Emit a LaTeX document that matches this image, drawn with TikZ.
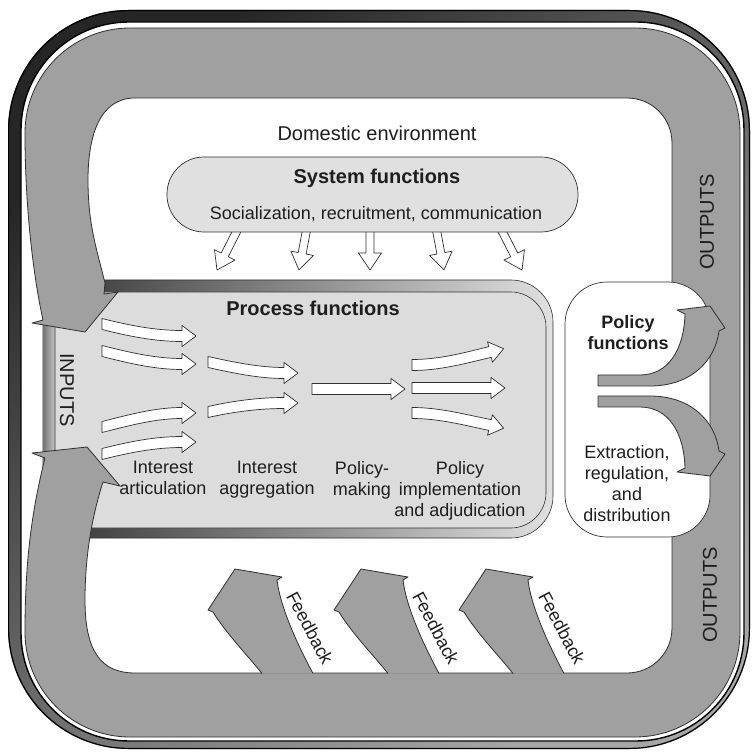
\documentclass[tikz,border=0pt]{standalone}
\usepackage{fontspec}
\setmainfont{Liberation Sans}
\usetikzlibrary{calc}
\definecolor{bandgray}{HTML}{A0A0A0}
\definecolor{procfill}{HTML}{DCDCDC}
\definecolor{sysfill}{HTML}{E0E0E0}
\definecolor{ink}{HTML}{1E1E1E}
\definecolor{edgec}{HTML}{303030}
\tikzset{
 bandstyle/.style={fill=bandgray, draw=edgec, line width=0.8pt, line join=round},
 bandfill/.style={fill=bandgray},
 bandline/.style={draw=edgec, line width=0.8pt, line join=round},
 wstyle/.style={fill=white, draw=edgec, line width=0.7pt, line join=round},
 lbl/.style={text=ink, inner sep=0pt, align=center},
}
\newcommand\fsA{\fontsize{18}{21}\selectfont}
\newcommand\fsB{\fontsize{20}{23}\selectfont}
% white curved arrow: tail, c1, c2, end (head base), head angle
\newcommand\myWarr[5]{%
  \filldraw[wstyle] ($#1+(0,-5.5)$) .. controls ($#2+(0,-5.5)$) and ($#3+(0,-5.5)$) .. ($#4+(#5-90:5.5)$)
   -- ($#4+(#5-90:10.5)$) -- ($#4+(#5:14)$) -- ($#4+(#5+90:10.5)$) -- ($#4+(#5+90:5.5)$)
   .. controls ($#3+(0,5.5)$) and ($#2+(0,5.5)$) .. ($#1+(0,5.5)$) -- cycle;}
% open arrow: tip, canvas angle
\newcommand\mySarr[2]{%
  \begin{scope}[shift={#1}, rotate=#2]
   \filldraw[wstyle] (0,0) -- (-17,11.5) -- (-17,4) -- (-50,4) -- (-50,-4) -- (-17,-4) -- (-17,-11.5) -- cycle;
  \end{scope}}
% feedback arrow with x shift
\newcommand\myFb[1]{%
  \begin{scope}[xshift=#1]
   \fill[bandfill] (262,673.5) .. controls (248,656) and (225,632) .. (213,612) -- (208,610) -- (235,569) -- (282,577) -- (277,580) .. controls (280,605) and (295,640) .. (313,673.5) -- cycle;
   \draw[bandline] (262,673.5) .. controls (248,656) and (225,632) .. (213,612) -- (208,610) -- (235,569) -- (282,577) -- (277,580) .. controls (280,605) and (295,640) .. (313,673.5);
  \end{scope}}

\begin{document}
\begin{tikzpicture}[x=1pt,y=-1pt]
\useasboundingbox (0,0) rectangle (756,754);
\fill[white] (0,0) rectangle (756,754);

% outer frame
\shade[rounded corners=120, top color=black!85, bottom color=black!35, shading angle=40] (8,10) rectangle (750,749);
\draw[black, line width=1.2pt, rounded corners=120] (8.6,10.6) rectangle (749.4,748.4);
\filldraw[fill=white, draw=black, line width=1.4pt, rounded corners=108] (21,22) rectangle (744,741);

% process box
\shade[left color=black!80, right color=black!12]
  (43,280) -- (511,280) .. controls (534,280) and (553,299) .. (553,322) -- (553,496)
  .. controls (553,519) and (534,538) .. (511,538) -- (43,538) -- cycle;
\draw[edgec, line width=0.6pt]
  (43,280) -- (511,280) .. controls (534,280) and (553,299) .. (553,322) -- (553,496)
  .. controls (553,519) and (534,538) .. (511,538) -- (43,538) -- cycle;
\shade[left color=black!55, right color=black!22] (43,292) rectangle (55,528);
\filldraw[fill=procfill, draw=edgec, line width=0.6pt]
  (55,292) -- (511,292) .. controls (530,292) and (546,308) .. (546,327) -- (546,493)
  .. controls (546,512) and (530,528) .. (511,528) -- (55,528) -- cycle;

% grey loop with inputs arrows
\filldraw[bandstyle]
 (43,320) -- (32,323) -- (85,332) -- (118,292) -- (104,294) -- (105,283)
 .. controls (97,250) and (88,225) .. (88,180)
 .. controls (88,135) and (100,98) .. (135,98)
 -- (627,98) .. controls (652,98) and (672,118) .. (672,143)
 -- (672,628) .. controls (672,653) and (652,673) .. (627,673)
 -- (135,673) .. controls (100,673) and (85,650) .. (85,600)
 .. controls (85,550) and (94,510) .. (103,482)
 -- (120,486) -- (87,447) -- (32,453) -- (45,458)
 .. controls (32,510) and (25,560) .. (25,632)
 .. controls (25,690) and (72,737) .. (130,737)
 -- (635,737) .. controls (693,737) and (740,690) .. (740,632)
 -- (740,133) .. controls (740,75) and (693,28) .. (635,28)
 -- (130,28) .. controls (72,28) and (25,75) .. (25,133)
 .. controls (25,200) and (32,270) .. (43,320) -- cycle;

% feedback arrows
\myFb{0pt}
\myFb{126pt}
\myFb{251pt}

% policy box and arrows
\node[draw=edgec, line width=0.7pt, fill=white, rounded corners=42, minimum width=145pt, minimum height=255pt] (pol) at (637.5,409.5) {};
\filldraw[bandstyle] (598,375) -- (640,375) .. controls (668,375) and (684,350) .. (685,314) -- (677,310) -- (710,306) -- (725,328) -- (719,331)
  .. controls (715,362) and (690,386) .. (650,386) -- (598,386) -- cycle;
\filldraw[bandstyle] (598,407) -- (640,407) .. controls (668,407) and (684,432) .. (685,468) -- (677,472) -- (710,476) -- (725,454) -- (719,451)
  .. controls (715,420) and (690,396) .. (650,396) -- (598,396) -- cycle;

% system arrows and box
\mySarr{(217,270)}{-117}
\mySarr{(299,270)}{-100.7}
\mySarr{(370,270)}{-90}
\mySarr{(444,270)}{-79.3}
\mySarr{(522,270)}{-62.8}
\node[draw=edgec, line width=0.7pt, fill=sysfill, rounded corners=37, minimum width=411pt, minimum height=75pt] (sys) at (372.5,194.5) {};

% process arrows
\myWarr{(102,324)}{(130,331)}{(155,336)}{(182,336)}{0}
\myWarr{(102,351)}{(130,358)}{(155,364)}{(182,364)}{0}
\myWarr{(102,427)}{(130,420)}{(155,413)}{(182,413)}{0}
\myWarr{(102,454)}{(130,447)}{(155,442)}{(182,442)}{0}
\myWarr{(208,362)}{(235,368)}{(260,373)}{(284,373)}{0}
\myWarr{(208,412)}{(235,406)}{(260,403)}{(284,403)}{0}
\myWarr{(312,389)}{(340,389)}{(365,389)}{(391,389)}{0}
\myWarr{(412,365)}{(440,365)}{(465,358)}{(490,352)}{-13.5}
\myWarr{(412,388)}{(440,388)}{(465,388)}{(491,388)}{0}
\myWarr{(412,413)}{(440,413)}{(465,420)}{(490,425)}{13.5}

% texts
\node[lbl, font=\fsB] (dom) at (377,133) {Domestic environment};
\node[lbl, font=\fsB\bfseries] (syst) at (377,178) {System functions};
\node[lbl, font=\fsA] (sysl) at (376,214) {Socialization, recruitment, communication};
\node[lbl, font=\fsB\bfseries] (proct) at (313,308) {Process functions};
\node[lbl, font=\fsA, anchor=north] (l1) at (163,461) {Interest\\articulation};
\node[lbl, font=\fsA, anchor=north] (l2) at (267,461) {Interest\\aggregation};
\node[lbl, font=\fsA, anchor=north] (l3) at (362,461) {Policy-\\making};
\node[lbl, font=\fsA, anchor=north] (l4) at (460,461) {Policy\\implementation\\and adjudication};
\node[lbl, font=\fsA\bfseries] (polt) at (628,333) {Policy\\functions};
\node[lbl, font=\fsA] (poll) at (627,484) {Extraction,\\regulation,\\and\\distribution};
\node[lbl, font=\fsB, rotate=90] (out1) at (707,222) {OUTPUTS};
\node[lbl, font=\fsB, rotate=90] (out2) at (710,595) {OUTPUTS};
\node[lbl, font=\fsB, rotate=-90] (inp) at (67,390) {INPUTS};
\node[lbl, font=\fsA, rotate=-62] (fb1) at (310,628) {Feedback};
\node[lbl, font=\fsA, rotate=-62] (fb2) at (436,628) {Feedback};
\node[lbl, font=\fsA, rotate=-62] (fb3) at (562,628) {Feedback};
\end{tikzpicture}
\end{document}
